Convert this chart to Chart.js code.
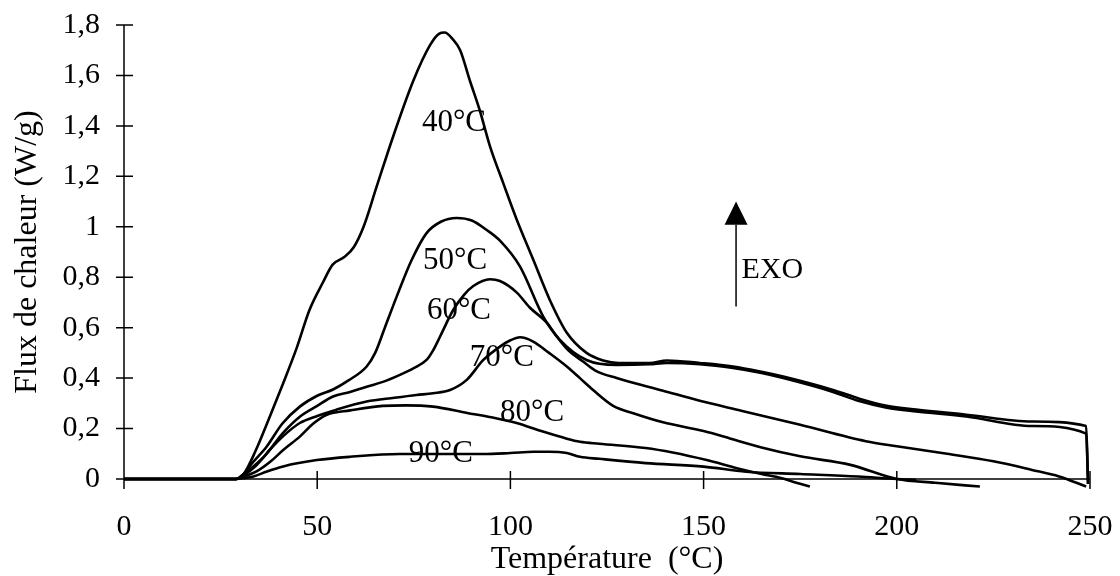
<!DOCTYPE html>
<html><head><meta charset="utf-8">
<script src="https://cdn.jsdelivr.net/npm/chart.js@4/dist/chart.umd.min.js"></script>
<style>html,body{margin:0;padding:0;background:#fff}#wrap{width:1120px;height:576px}</style>
</head><body><div id="wrap"><canvas id="c" width="1120" height="576"></canvas></div>
<script>
// ---- data (temperature °C, heat flow W/g) ----
const seriesNames = ['40°C','50°C','60°C','70°C','80°C','90°C'];
const s40 = [[0,0],[29,0],[31,0.02],[34,0.11],[37.8,0.25],[41.2,0.38],[44.7,0.52],[48,0.67],[51.5,0.78],[54,0.85],[57,0.88],[59.5,0.92],[62,1.0],[65.4,1.16],[69.7,1.36],[74.9,1.58],[79.2,1.72],[81.5,1.765],[83,1.77],[85,1.745],[87,1.70],[89.5,1.58],[92.1,1.46],[94.7,1.32],[98.1,1.175],[101.6,1.03],[105.9,0.87],[110.2,0.71],[114.6,0.58],[119.7,0.50],[124,0.47],[128,0.46],[136,0.46],[140.5,0.47],[149,0.46],[157.6,0.446],[165,0.425],[170.6,0.406],[183.5,0.353],[190,0.32],[197.4,0.29],[205,0.275],[218,0.255],[235,0.228],[249,0.21],[249.5,-0.02]];
const s50 = [[0,0],[29,0],[31,0.02],[33,0.06],[36.9,0.128],[41,0.22],[45.5,0.287],[50,0.33],[54.1,0.355],[58,0.39],[62.8,0.446],[65,0.5],[67.5,0.6],[71,0.74],[74.5,0.87],[78.3,0.975],[82,1.02],[86.1,1.035],[90,1.025],[93.8,0.988],[97.3,0.945],[102.5,0.842],[108.5,0.644],[112.8,0.552],[119.7,0.472],[127.5,0.452],[136,0.455],[140.5,0.46],[149,0.455],[157.6,0.44],[165,0.42],[170.6,0.40],[183.5,0.345],[190,0.31],[197.4,0.283],[205,0.268],[218,0.248],[235,0.21],[249,0.18],[249.5,-0.02]];
const s60 = [[0,0],[29,0],[31,0.02],[33.5,0.05],[36.9,0.10],[41,0.18],[45.5,0.247],[50,0.29],[54.1,0.327],[58.5,0.345],[62.8,0.366],[67,0.385],[71.4,0.413],[75,0.44],[78.3,0.472],[80,0.51],[81.8,0.565],[85.2,0.67],[88,0.73],[90.4,0.765],[94.7,0.792],[97.3,0.785],[101.6,0.74],[105,0.68],[109.4,0.62],[112,0.565],[115,0.51],[118.9,0.465],[122,0.43],[127.5,0.40],[139.5,0.35],[149,0.31],[160,0.27],[175,0.215],[192,0.15],[200,0.13],[213,0.10],[225,0.07],[235,0.036],[242,0.01],[249,-0.03]];
const s70 = [[0,0],[29,0],[31,0.015],[34,0.05],[38,0.12],[41.2,0.17],[45.5,0.222],[50,0.25],[55,0.275],[62.8,0.307],[70,0.322],[75.7,0.333],[80,0.34],[84.4,0.353],[88.7,0.393],[93,0.472],[97.3,0.525],[100,0.55],[102.5,0.562],[105.9,0.545],[110,0.5],[114.6,0.446],[118,0.40],[121.4,0.353],[126.6,0.29],[132,0.26],[139.5,0.225],[150,0.19],[157,0.16],[165,0.125],[175,0.09],[188,0.056],[200,0.0],[210,-0.015],[221.5,-0.03]];
const s80 = [[0,0],[29,0],[31,0.01],[34.3,0.03],[38,0.07],[41.2,0.115],[45.5,0.168],[49,0.22],[52.5,0.255],[58.5,0.272],[67,0.29],[73,0.292],[80,0.287],[88.8,0.262],[95,0.245],[101.6,0.222],[108,0.19],[114.6,0.16],[118,0.148],[123,0.14],[135,0.123],[142,0.105],[150.8,0.075],[158.6,0.043],[165,0.02],[170,0.004],[174,-0.015],[177.5,-0.03]];
const s90 = [[0,0],[29,0],[31,0.003],[33.5,0.01],[37,0.03],[41.2,0.05],[49.9,0.075],[58.5,0.088],[71.4,0.099],[93,0.099],[100,0.103],[106,0.108],[110,0.108],[114.6,0.103],[118,0.088],[123,0.08],[135,0.063],[150,0.049],[161,0.029],[175,0.02],[190,0.01],[200,0.0],[205,-0.003]];
const xTickValues = [0,50,100,150,200,250];
const xTickLabels = ['0','50','100','150','200','250'];
const yTickValues = [0,0.2,0.4,0.6,0.8,1,1.2,1.4,1.6,1.8];
const yTickLabels = ['0','0,2','0,4','0,6','0,8','1','1,2','1,4','1,6','1,8'];
const xTitle = 'Température  (°C)';
const yTitle = 'Flux de chaleur (W/g)';
// label anchors (data coordinates, text centre)
const labelAnchors = [[85.4,1.413],[85.7,0.865],[86.7,0.665],[97.8,0.48],[105.6,0.262],[82,0.099]];
const exoAnchor = {x:158.4, yBase:0.684, yTop:1.008, yTip:1.10, text:'EXO', textX:159.8, textY:0.798};

const FONT = '"Liberation Serif","Times New Roman",serif';
const allSeries = [s40,s50,s60,s70,s80,s90];

const overlay = {
  id:'overlay',
  afterDraw(chart){
    const {ctx, scales:{x,y}} = chart;
    const x0 = x.getPixelForValue(0), y0 = y.getPixelForValue(0);
    ctx.save();
    ctx.strokeStyle='#000'; ctx.fillStyle='#000'; ctx.lineWidth=1.5;
    ctx.beginPath();
    ctx.moveTo(x0, y.getPixelForValue(1.8)); ctx.lineTo(x0, y0);
    ctx.moveTo(x0, y0); ctx.lineTo(x.getPixelForValue(250), y0);
    yTickValues.forEach(v=>{const p=y.getPixelForValue(v); ctx.moveTo(x0-8,p); ctx.lineTo(x0+9,p);});
    xTickValues.forEach(v=>{const p=x.getPixelForValue(v); ctx.moveTo(p,y0-8); ctx.lineTo(p,y0+10);});
    ctx.stroke();
    ctx.font = '31px '+FONT; ctx.textAlign='center'; ctx.textBaseline='middle';
    labelAnchors.forEach((a,i)=>{ctx.fillText(seriesNames[i], x.getPixelForValue(a[0]), y.getPixelForValue(a[1]));});
    const ax = x.getPixelForValue(exoAnchor.x);
    ctx.lineWidth=1.5;
    ctx.beginPath(); ctx.moveTo(ax, y.getPixelForValue(exoAnchor.yBase)); ctx.lineTo(ax, y.getPixelForValue(exoAnchor.yTop)); ctx.stroke();
    const tipY = y.getPixelForValue(exoAnchor.yTip), baseY=y.getPixelForValue(exoAnchor.yTop);
    ctx.beginPath(); ctx.moveTo(ax, tipY); ctx.lineTo(ax-11.5, baseY); ctx.lineTo(ax+11.5, baseY); ctx.closePath(); ctx.fill();
    ctx.font = '30px '+FONT;
    ctx.textAlign='left'; ctx.textBaseline='alphabetic';
    ctx.fillText(exoAnchor.text, x.getPixelForValue(exoAnchor.textX), y.getPixelForValue(exoAnchor.textY));
    ctx.font = '32px '+FONT;
    ctx.textAlign='center'; ctx.textBaseline='alphabetic';
    ctx.fillText(xTitle, (x.left+x.right)/2, 568);
    ctx.translate(36, (y.top+y.bottom)/2); ctx.rotate(-Math.PI/2);
    ctx.fillText(yTitle, 0, 0);
    ctx.restore();
  }
};

new Chart(document.getElementById('c'), {
  type:'scatter',
  data:{datasets: allSeries.map((s,i)=>({label:seriesNames[i], data:s.map(p=>({x:p[0],y:p[1]})), showLine:true, borderColor:'#000', backgroundColor:'#000', borderWidth:2.6, pointRadius:0, cubicInterpolationMode:'monotone', clip:false}))},
  options:{
    responsive:false, animation:false, devicePixelRatio:1,
    layout:{padding:{left:0,right:30,top:25,bottom:0}},
    plugins:{legend:{display:false}, tooltip:{enabled:false}},
    scales:{
      x:{type:'linear', min:0, max:250, grid:{display:false, drawTicks:false}, border:{display:false},
         afterBuildTicks:(s)=>{s.ticks = xTickValues.map(v=>({value:v}));},
         afterFit:(s)=>{s.height = 97; s.paddingLeft=0; s.paddingRight=0;},
         ticks:{padding:30, color:'#000', font:{family:FONT,size:30}, maxRotation:0, callback:(v,i)=>xTickLabels[i]}},
      y:{type:'linear', min:0, max:1.8, grid:{display:false, drawTicks:false}, border:{display:false},
         afterBuildTicks:(s)=>{s.ticks = yTickValues.map(v=>({value:v}));},
         afterFit:(s)=>{s.width = 124; s.paddingTop=0; s.paddingBottom=0;},
         ticks:{padding:24, color:'#000', font:{family:FONT,size:30}, callback:(v,i)=>yTickLabels[i]}}
    }
  },
  plugins:[overlay]
});
</script></body></html>
